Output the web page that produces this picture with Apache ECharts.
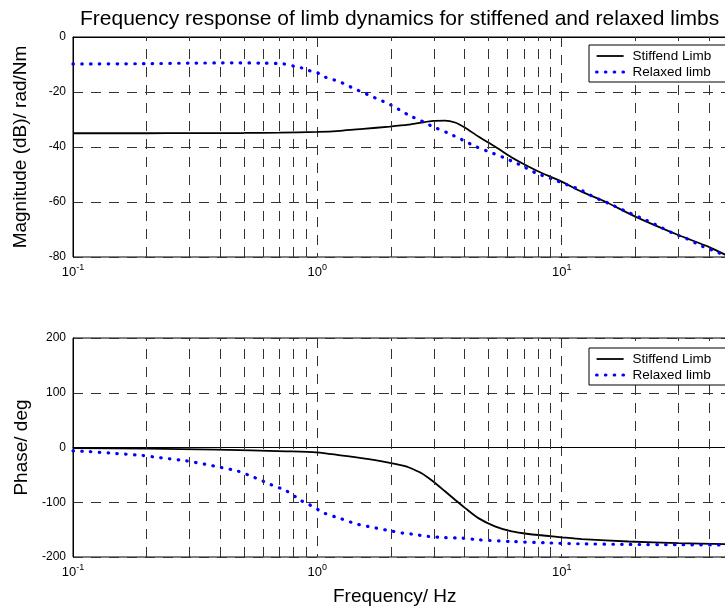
<!DOCTYPE html>
<html>
<head>
<meta charset="utf-8">
<script src="https://cdn.jsdelivr.net/npm/echarts@6/dist/echarts.min.js"></script>
<style>
html,body{margin:0;padding:0;background:#fff;}
#chart{width:725px;height:612px;}
</style>
</head>
<body>
<div id="chart"></div>
<script>
// ---- data ----
const titleText = 'Frequency response of limb dynamics for stiffened and relaxed limbs';
const seriesNames = ['Stiffend Limb', 'Relaxed limb'];
const magYTicks = { min: -80, max: 0, interval: 20 };
const phaseYTicks = { min: -200, max: 200, interval: 100 };
const minorFreqs = [0.2,0.3,0.4,0.5,0.6,0.7,0.8,0.9,2,3,4,5,6,7,8,9,20,30,40,50,60,70,80,90];

const freqMagStiff = [0.1,0.2,0.3,0.5,0.7,1.0,1.24,1.54,1.98,2.36,2.67,2.98,3.33,3.66,4.03,4.56,5.33,6.25,7.31,8.04,10,12.1,15.1,20,30,40,47];
const magStiff     = [-35.0,-35.0,-34.95,-34.9,-34.8,-34.5,-34.1,-33.4,-32.6,-31.9,-31.1,-30.5,-30.4,-31.1,-33.0,-36.2,-39.8,-43.8,-47.1,-48.9,-52.6,-56.3,-59.9,-65.3,-72.0,-76.3,-79.3];

const freqMagRelax = [0.1,0.2,0.3,0.45,0.6,0.73,0.8,0.86,0.925,1.0,1.07,1.16,1.24,1.33,1.43,1.53,1.63,1.75,1.88,2.02,2.17,2.39,2.74,2.97,3.42,3.9,4.49,5.17,5.96,6.87,7.91,9.12,10.5,12.1,13.7,15.6,18.2,21.0,24.2,28.3,32.6,37.6,43.3,47];
const magRelax     = [-9.8,-9.7,-9.5,-9.4,-9.5,-9.8,-10.6,-11.2,-12.2,-13.0,-14.5,-15.5,-16.4,-17.6,-19.0,-20.0,-21.2,-22.4,-23.6,-24.9,-26.5,-28.6,-31.0,-32.6,-34.9,-37.3,-40.0,-42.1,-44.3,-46.8,-49.6,-51.6,-53.7,-55.8,-58.4,-60.5,-63.3,-65.7,-68.2,-71.2,-73.4,-76.1,-78.2,-79.7];

const freqPhStiff = [0.1,0.2,0.385,0.745,0.99,1.54,1.98,2.24,2.36,2.67,2.98,3.33,3.66,4.03,4.56,5.33,6.25,7.31,10,12.1,18.8,30,47];
const phStiff     = [-1,-2,-4,-7,-9,-20,-28,-33,-36,-47,-62,-80,-95.5,-110.7,-129,-144,-153.4,-158,-164,-167.4,-171.7,-174.6,-176.5];

const freqPhRelax = [0.1,0.116,0.15,0.193,0.212,0.248,0.29,0.345,0.404,0.472,0.553,0.647,0.745,0.859,0.93,1.07,1.23,1.44,1.69,1.98,2.24,2.43,2.85,3.33,3.9,4.56,6.25,8.5,11.7,18.8,30,47];
const phRelax     = [-6,-7.5,-11,-14.6,-17,-20.6,-24.3,-30.4,-36.5,-43,-54.8,-68,-79,-97,-104.7,-120,-129,-139.4,-146,-152,-156.4,-158.1,-162.5,-164.4,-165.5,-168.6,-171.7,-174,-175.8,-177,-177.6,-178];

// ---- chart ----
const FONT = 'Liberation Sans, Arial, Helvetica, sans-serif';
const zip = (xs, ys) => xs.map((x, i) => [x, ys[i]]);
const gridDash = [10, 8];
const gridColor = '#333';

function xAxisCfg(gridIndex) {
  return {
    type: 'log', logBase: 10, gridIndex: gridIndex, min: 0.1, max: 100,
    axisLine: { show: true, lineStyle: { color: '#000', width: 1 } },
    axisTick: { show: false },
    splitLine: { show: true, lineStyle: { type: gridDash, color: gridColor, width: 1 } },
    axisLabel: {
      margin: 6, color: '#000', fontFamily: FONT,
      formatter: v => {
        const e = Math.round(Math.log10(v));
        return e >= 2 ? '' : '{b|10}{s|' + e + '}';
      },
      rich: {
        b: { fontSize: 13, fontFamily: FONT, color: '#000', lineHeight: 16, verticalAlign: 'bottom' },
        s: { fontSize: 9, fontFamily: FONT, color: '#000', lineHeight: 16, verticalAlign: 'top' }
      }
    }
  };
}
function yAxisCfg(gridIndex, t, name, gap) {
  return {
    type: 'value', gridIndex: gridIndex, min: t.min, max: t.max, interval: t.interval,
    name: name, nameLocation: 'middle', nameGap: gap,
    nameTextStyle: { fontSize: 19, fontFamily: FONT, color: '#000' },
    axisLine: { show: true, lineStyle: { color: '#000', width: 1 } },
    axisTick: { show: false },
    splitLine: { show: true, lineStyle: { type: gridDash, color: gridColor, width: 1 } },
    axisLabel: { fontSize: 12, fontFamily: FONT, color: '#000', margin: 7 }
  };
}
const minorMarkLine = {
  silent: true, symbol: ['none', 'none'], animation: false,
  label: { show: false },
  lineStyle: { type: gridDash, color: gridColor, width: 1 },
  emphasis: { disabled: true },
  data: minorFreqs.map(f => ({ xAxis: f }))
};
const stiffStyle = { color: '#000', width: 1.8, type: 'solid' };
const relaxStyle = { color: '#0000ff', width: 3.2, type: [0.5, 8.3], cap: 'round' };

function legendCfg(top) {
  return {
    left: 589, top: top, orient: 'vertical', z: 20, zlevel: 0,
    data: seriesNames,
    backgroundColor: '#fff', borderColor: '#000', borderWidth: 1,
    padding: [4, 60, 3, 6], itemGap: 2, itemWidth: 27, itemHeight: 12,
    selectedMode: false,
    itemStyle: { opacity: 0, borderWidth: 0, color: 'rgba(0,0,0,0)' },
    lineStyle: { width: 'inherit' },
    textStyle: { fontSize: 13.5, fontFamily: FONT, color: '#000', padding: [0, 0, 0, 4] }
  };
}
function gridCfg(top, height) {
  return { left: 73, top: top, width: 733, height: height, containLabel: false, outerBoundsMode: 'none',
    show: true, borderColor: '#000', borderWidth: 1, backgroundColor: 'transparent' };
}

const chart = echarts.init(document.getElementById('chart'), null, { renderer: 'canvas' });
chart.setOption({
  animation: false,
  backgroundColor: '#fff',
  title: [
    { text: titleText, left: 80, top: 9, padding: 0,
      textStyle: { fontSize: 21, fontWeight: 'normal', fontFamily: FONT, color: '#000' } },
    { text: 'Frequency/ Hz', left: 333, top: 587, padding: 0,
      textStyle: { fontSize: 19, fontWeight: 'normal', fontFamily: FONT, color: '#000' } }
  ],
  legend: [legendCfg(45), legendCfg(348)],
  grid: [gridCfg(37, 220), gridCfg(338, 219)],
  xAxis: [xAxisCfg(0), xAxisCfg(1)],
  yAxis: [
    yAxisCfg(0, magYTicks, 'Magnitude (dB)/ rad/Nm', 43),
    yAxisCfg(1, phaseYTicks, 'Phase/ deg', 37)
  ],
  series: [
    { name: seriesNames[0], type: 'line', xAxisIndex: 0, yAxisIndex: 0, data: zip(freqMagStiff, magStiff),
      symbol: 'none', showSymbol: false, smooth: 0.25, lineStyle: stiffStyle, itemStyle: { color: '#000' },
      markLine: minorMarkLine, z: 3 },
    { name: seriesNames[1], type: 'line', xAxisIndex: 0, yAxisIndex: 0, data: zip(freqMagRelax, magRelax),
      symbol: 'none', showSymbol: false, smooth: 0.25, lineStyle: relaxStyle, itemStyle: { color: '#0000ff' }, z: 4 },
    { name: seriesNames[0], type: 'line', xAxisIndex: 1, yAxisIndex: 1, data: zip(freqPhStiff, phStiff),
      symbol: 'none', showSymbol: false, smooth: 0.25, lineStyle: stiffStyle, itemStyle: { color: '#000' },
      markLine: minorMarkLine, z: 3 },
    { name: seriesNames[1], type: 'line', xAxisIndex: 1, yAxisIndex: 1, data: zip(freqPhRelax, phRelax),
      symbol: 'none', showSymbol: false, smooth: 0.25, lineStyle: relaxStyle, itemStyle: { color: '#0000ff' }, z: 4 }
  ]
});
</script>
</body>
</html>
